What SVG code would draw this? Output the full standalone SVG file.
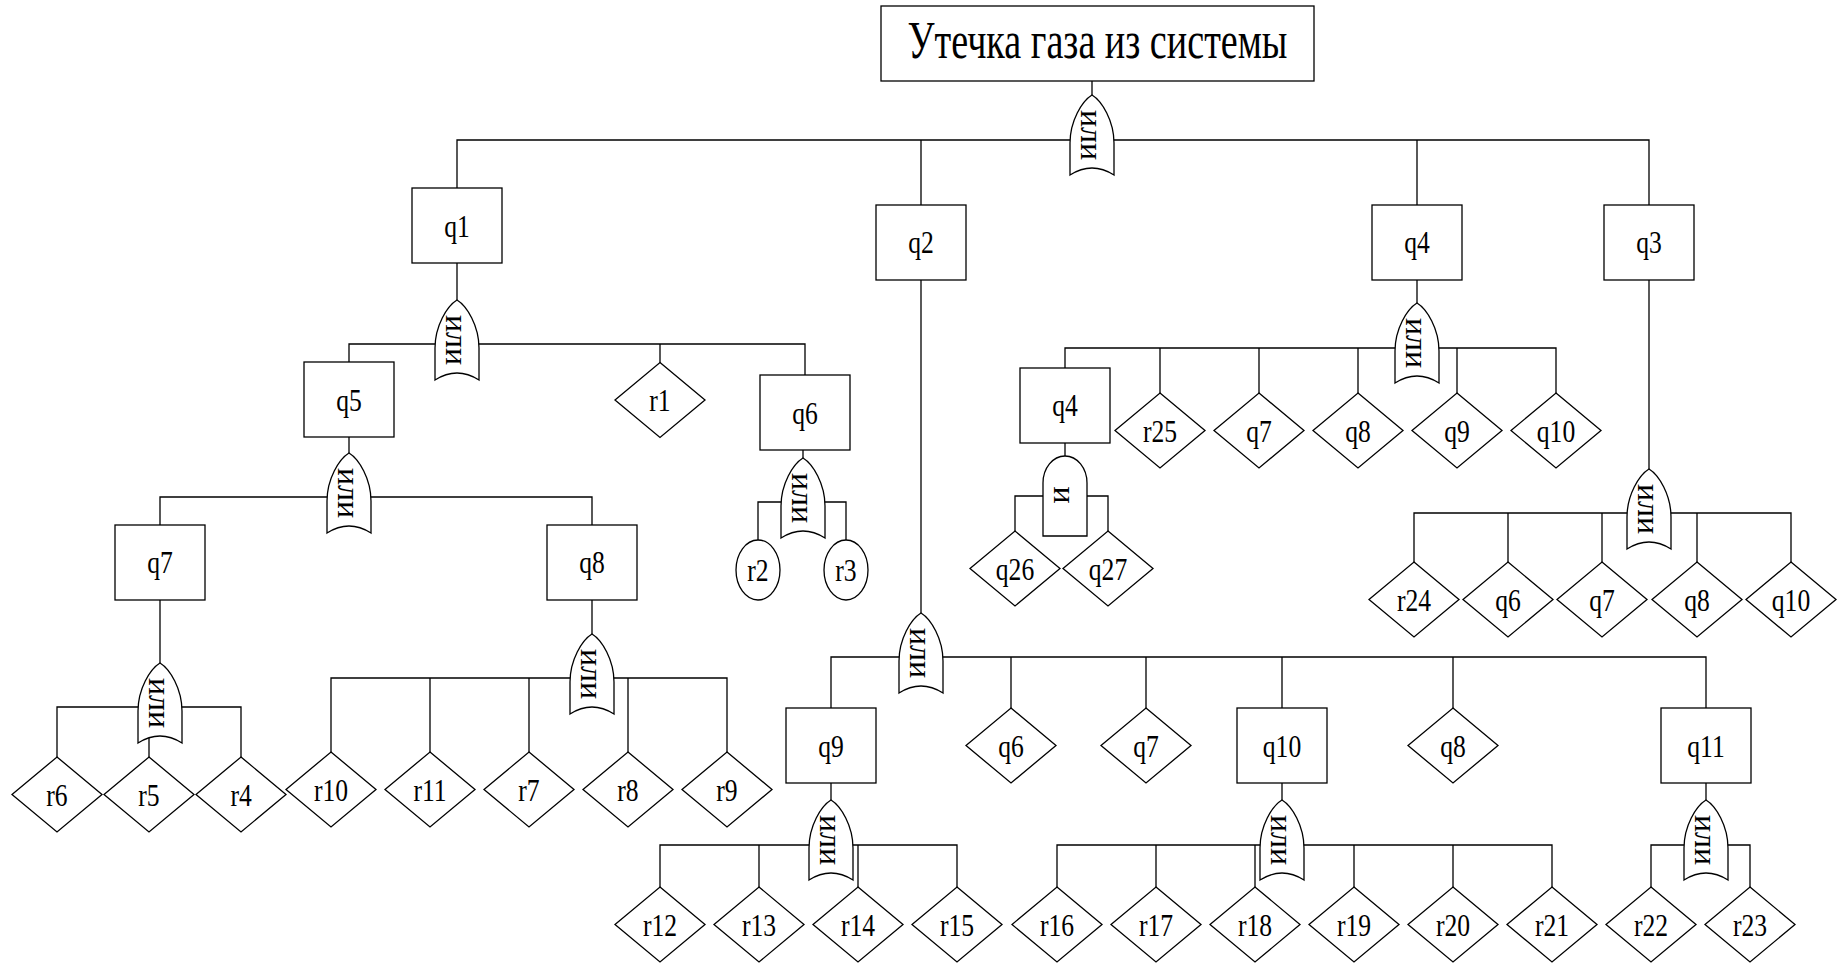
<svg xmlns="http://www.w3.org/2000/svg" xmlns:xlink="http://www.w3.org/1999/xlink" width="1845" height="965" viewBox="0 0 1845 965">
<style>
.ln{fill:none;stroke:#000;stroke-width:1.3}
.sh{fill:#fff;stroke:#000;stroke-width:1.3}
.lb{font-family:"Liberation Serif","Times New Roman",serif;font-size:32px;text-anchor:middle;fill:#000;transform-box:fill-box;transform-origin:center;transform:scaleX(0.8)}
.gt{font-family:"Liberation Serif","Times New Roman",serif;font-size:32px;text-anchor:middle;dominant-baseline:central;fill:#000}
</style>
<defs>
<path id="or" d="M0,0 C10,6 22,26 22,48 L22,80 Q0,66 -22,80 L-22,48 C-22,26 -10,6 0,0 Z"/>
<path id="and" d="M-22,80 L-22,27 A22,27 0 0 1 22,27 L22,80 Z"/>
<polygon id="dm" points="0,-37.5 45,0 0,37.5 -45,0"/>
</defs>
<rect width="1845" height="965" fill="#fff"/>

<g id="connectors" class="ln">
<path d="M1092,81V95"/>
<path d="M457,188V140H1649V205M921,140V205M1417,140V205"/>
<path d="M457,263V300"/>
<path d="M349,362V344H805V375M660,344V363"/>
<path d="M349,437V453"/>
<path d="M160,525V497H592V525"/>
<path d="M160,600V663"/>
<path d="M57,757V707H241V757M149,707V757"/>
<path d="M592,600V634"/>
<path d="M331,752V678H727V752M430,678V752M529,678V752M628,678V752"/>
<path d="M803,450V458"/>
<path d="M758,540V502H846V540"/>
<path d="M921,280V613"/>
<path d="M831,708V657H1706V708M1011,657V708M1146,657V708M1282,657V708M1453,657V708"/>
<path d="M831,783V800"/>
<path d="M660,887V845H957V887M759,845V887M858,845V887"/>
<path d="M1282,783V800"/>
<path d="M1057,887V845H1552V887M1156,845V887M1255,845V887M1354,845V887M1453,845V887"/>
<path d="M1706,783V800"/>
<path d="M1651,887V845H1750V887"/>
<path d="M1417,280V303"/>
<path d="M1065,368V348H1556V393M1160,348V393M1259,348V393M1358,348V393M1457,348V393"/>
<path d="M1065,443V456"/>
<path d="M1015,531V496H1108V531"/>
<path d="M1649,280V469"/>
<path d="M1414,562V513H1791V562M1508,513V562M1602,513V562M1697,513V562"/>
</g>

<g id="top">
<rect class="sh" x="881" y="6" width="433" height="75"/>
<text x="1097.5" y="58" font-family="Liberation Serif, Times New Roman, serif" font-size="52" text-anchor="middle" textLength="380" lengthAdjust="spacingAndGlyphs">Утечка газа из системы</text>
</g>

<g id="gate-top"><use href="#or" class="sh" transform="translate(1092,95)"/><text class="gt" transform="translate(1092,135) rotate(90)">или</text></g>
<g id="gate-q1"><use href="#or" class="sh" transform="translate(457,300)"/><text class="gt" transform="translate(457,340) rotate(90)">или</text></g>
<g id="gate-q5"><use href="#or" class="sh" transform="translate(349,453)"/><text class="gt" transform="translate(349,493) rotate(90)">или</text></g>
<g id="gate-q7"><use href="#or" class="sh" transform="translate(160,663)"/><text class="gt" transform="translate(160,703) rotate(90)">или</text></g>
<g id="gate-q8"><use href="#or" class="sh" transform="translate(592,634)"/><text class="gt" transform="translate(592,674) rotate(90)">или</text></g>
<g id="gate-q6"><use href="#or" class="sh" transform="translate(803,458)"/><text class="gt" transform="translate(803,498) rotate(90)">или</text></g>
<g id="gate-q2"><use href="#or" class="sh" transform="translate(921,613)"/><text class="gt" transform="translate(921,653) rotate(90)">или</text></g>
<g id="gate-q9"><use href="#or" class="sh" transform="translate(831,800)"/><text class="gt" transform="translate(831,840) rotate(90)">или</text></g>
<g id="gate-q10"><use href="#or" class="sh" transform="translate(1282,800)"/><text class="gt" transform="translate(1282,840) rotate(90)">или</text></g>
<g id="gate-q11"><use href="#or" class="sh" transform="translate(1706,800)"/><text class="gt" transform="translate(1706,840) rotate(90)">или</text></g>
<g id="gate-q4"><use href="#or" class="sh" transform="translate(1417,303)"/><text class="gt" transform="translate(1417,343) rotate(90)">или</text></g>
<g id="gate-q3"><use href="#or" class="sh" transform="translate(1649,469)"/><text class="gt" transform="translate(1649,509) rotate(90)">или</text></g>
<g id="gate-q4b"><use href="#and" class="sh" transform="translate(1065,456)"/><text class="gt" transform="translate(1065,495) rotate(90)">и</text></g>

<g id="q1"><rect class="sh" x="412" y="188" width="90" height="75"/><text class="lb" x="457" y="237">q1</text></g>
<g id="q2"><rect class="sh" x="876" y="205" width="90" height="75"/><text class="lb" x="921" y="253">q2</text></g>
<g id="q4"><rect class="sh" x="1372" y="205" width="90" height="75"/><text class="lb" x="1417" y="253">q4</text></g>
<g id="q3"><rect class="sh" x="1604" y="205" width="90" height="75"/><text class="lb" x="1649" y="253">q3</text></g>
<g id="q5"><rect class="sh" x="304" y="362" width="90" height="75"/><text class="lb" x="349" y="411">q5</text></g>
<g id="q6"><rect class="sh" x="760" y="375" width="90" height="75"/><text class="lb" x="805" y="424">q6</text></g>
<g id="q7"><rect class="sh" x="115" y="525" width="90" height="75"/><text class="lb" x="160" y="573">q7</text></g>
<g id="q8"><rect class="sh" x="547" y="525" width="90" height="75"/><text class="lb" x="592" y="573">q8</text></g>
<g id="q4b"><rect class="sh" x="1020" y="368" width="90" height="75"/><text class="lb" x="1065" y="416">q4</text></g>
<g id="q9"><rect class="sh" x="786" y="708" width="90" height="75"/><text class="lb" x="831" y="757">q9</text></g>
<g id="q10"><rect class="sh" x="1237" y="708" width="90" height="75"/><text class="lb" x="1282" y="757">q10</text></g>
<g id="q11"><rect class="sh" x="1661" y="708" width="90" height="75"/><text class="lb" x="1706" y="757">q11</text></g>

<g id="r1"><use href="#dm" class="sh" transform="translate(660,400)"/><text class="lb" x="660" y="411">r1</text></g>
<g id="r2"><ellipse class="sh" cx="758" cy="570" rx="22" ry="30"/><text class="lb" x="758" y="581">r2</text></g>
<g id="r3"><ellipse class="sh" cx="846" cy="570" rx="22" ry="30"/><text class="lb" x="846" y="581">r3</text></g>

<g id="r25"><use href="#dm" class="sh" transform="translate(1160,430.5)"/><text class="lb" x="1160" y="442">r25</text></g>
<g id="q4-q7"><use href="#dm" class="sh" transform="translate(1259,430.5)"/><text class="lb" x="1259" y="442">q7</text></g>
<g id="q4-q8"><use href="#dm" class="sh" transform="translate(1358,430.5)"/><text class="lb" x="1358" y="442">q8</text></g>
<g id="q4-q9"><use href="#dm" class="sh" transform="translate(1457,430.5)"/><text class="lb" x="1457" y="442">q9</text></g>
<g id="q4-q10"><use href="#dm" class="sh" transform="translate(1556,430.5)"/><text class="lb" x="1556" y="442">q10</text></g>

<g id="q26"><use href="#dm" class="sh" transform="translate(1015,568.5)"/><text class="lb" x="1015" y="580">q26</text></g>
<g id="q27"><use href="#dm" class="sh" transform="translate(1108,568.5)"/><text class="lb" x="1108" y="580">q27</text></g>

<g id="r24"><use href="#dm" class="sh" transform="translate(1414,599.5)"/><text class="lb" x="1414" y="611">r24</text></g>
<g id="q3-q6"><use href="#dm" class="sh" transform="translate(1508,599.5)"/><text class="lb" x="1508" y="611">q6</text></g>
<g id="q3-q7"><use href="#dm" class="sh" transform="translate(1602,599.5)"/><text class="lb" x="1602" y="611">q7</text></g>
<g id="q3-q8"><use href="#dm" class="sh" transform="translate(1697,599.5)"/><text class="lb" x="1697" y="611">q8</text></g>
<g id="q3-q10"><use href="#dm" class="sh" transform="translate(1791,599.5)"/><text class="lb" x="1791" y="611">q10</text></g>

<g id="r6"><use href="#dm" class="sh" transform="translate(57,794.5)"/><text class="lb" x="57" y="806">r6</text></g>
<g id="r5"><use href="#dm" class="sh" transform="translate(149,794.5)"/><text class="lb" x="149" y="806">r5</text></g>
<g id="r4"><use href="#dm" class="sh" transform="translate(241,794.5)"/><text class="lb" x="241" y="806">r4</text></g>

<g id="r10"><use href="#dm" class="sh" transform="translate(331,789.5)"/><text class="lb" x="331" y="801">r10</text></g>
<g id="r11"><use href="#dm" class="sh" transform="translate(430,789.5)"/><text class="lb" x="430" y="801">r11</text></g>
<g id="r7"><use href="#dm" class="sh" transform="translate(529,789.5)"/><text class="lb" x="529" y="801">r7</text></g>
<g id="r8"><use href="#dm" class="sh" transform="translate(628,789.5)"/><text class="lb" x="628" y="801">r8</text></g>
<g id="r9"><use href="#dm" class="sh" transform="translate(727,789.5)"/><text class="lb" x="727" y="801">r9</text></g>

<g id="q2-q6"><use href="#dm" class="sh" transform="translate(1011,745.5)"/><text class="lb" x="1011" y="757">q6</text></g>
<g id="q2-q7"><use href="#dm" class="sh" transform="translate(1146,745.5)"/><text class="lb" x="1146" y="757">q7</text></g>
<g id="q2-q8"><use href="#dm" class="sh" transform="translate(1453,745.5)"/><text class="lb" x="1453" y="757">q8</text></g>

<g id="r12"><use href="#dm" class="sh" transform="translate(660,924.5)"/><text class="lb" x="660" y="936">r12</text></g>
<g id="r13"><use href="#dm" class="sh" transform="translate(759,924.5)"/><text class="lb" x="759" y="936">r13</text></g>
<g id="r14"><use href="#dm" class="sh" transform="translate(858,924.5)"/><text class="lb" x="858" y="936">r14</text></g>
<g id="r15"><use href="#dm" class="sh" transform="translate(957,924.5)"/><text class="lb" x="957" y="936">r15</text></g>
<g id="r16"><use href="#dm" class="sh" transform="translate(1057,924.5)"/><text class="lb" x="1057" y="936">r16</text></g>
<g id="r17"><use href="#dm" class="sh" transform="translate(1156,924.5)"/><text class="lb" x="1156" y="936">r17</text></g>
<g id="r18"><use href="#dm" class="sh" transform="translate(1255,924.5)"/><text class="lb" x="1255" y="936">r18</text></g>
<g id="r19"><use href="#dm" class="sh" transform="translate(1354,924.5)"/><text class="lb" x="1354" y="936">r19</text></g>
<g id="r20"><use href="#dm" class="sh" transform="translate(1453,924.5)"/><text class="lb" x="1453" y="936">r20</text></g>
<g id="r21"><use href="#dm" class="sh" transform="translate(1552,924.5)"/><text class="lb" x="1552" y="936">r21</text></g>
<g id="r22"><use href="#dm" class="sh" transform="translate(1651,924.5)"/><text class="lb" x="1651" y="936">r22</text></g>
<g id="r23"><use href="#dm" class="sh" transform="translate(1750,924.5)"/><text class="lb" x="1750" y="936">r23</text></g>
</svg>
